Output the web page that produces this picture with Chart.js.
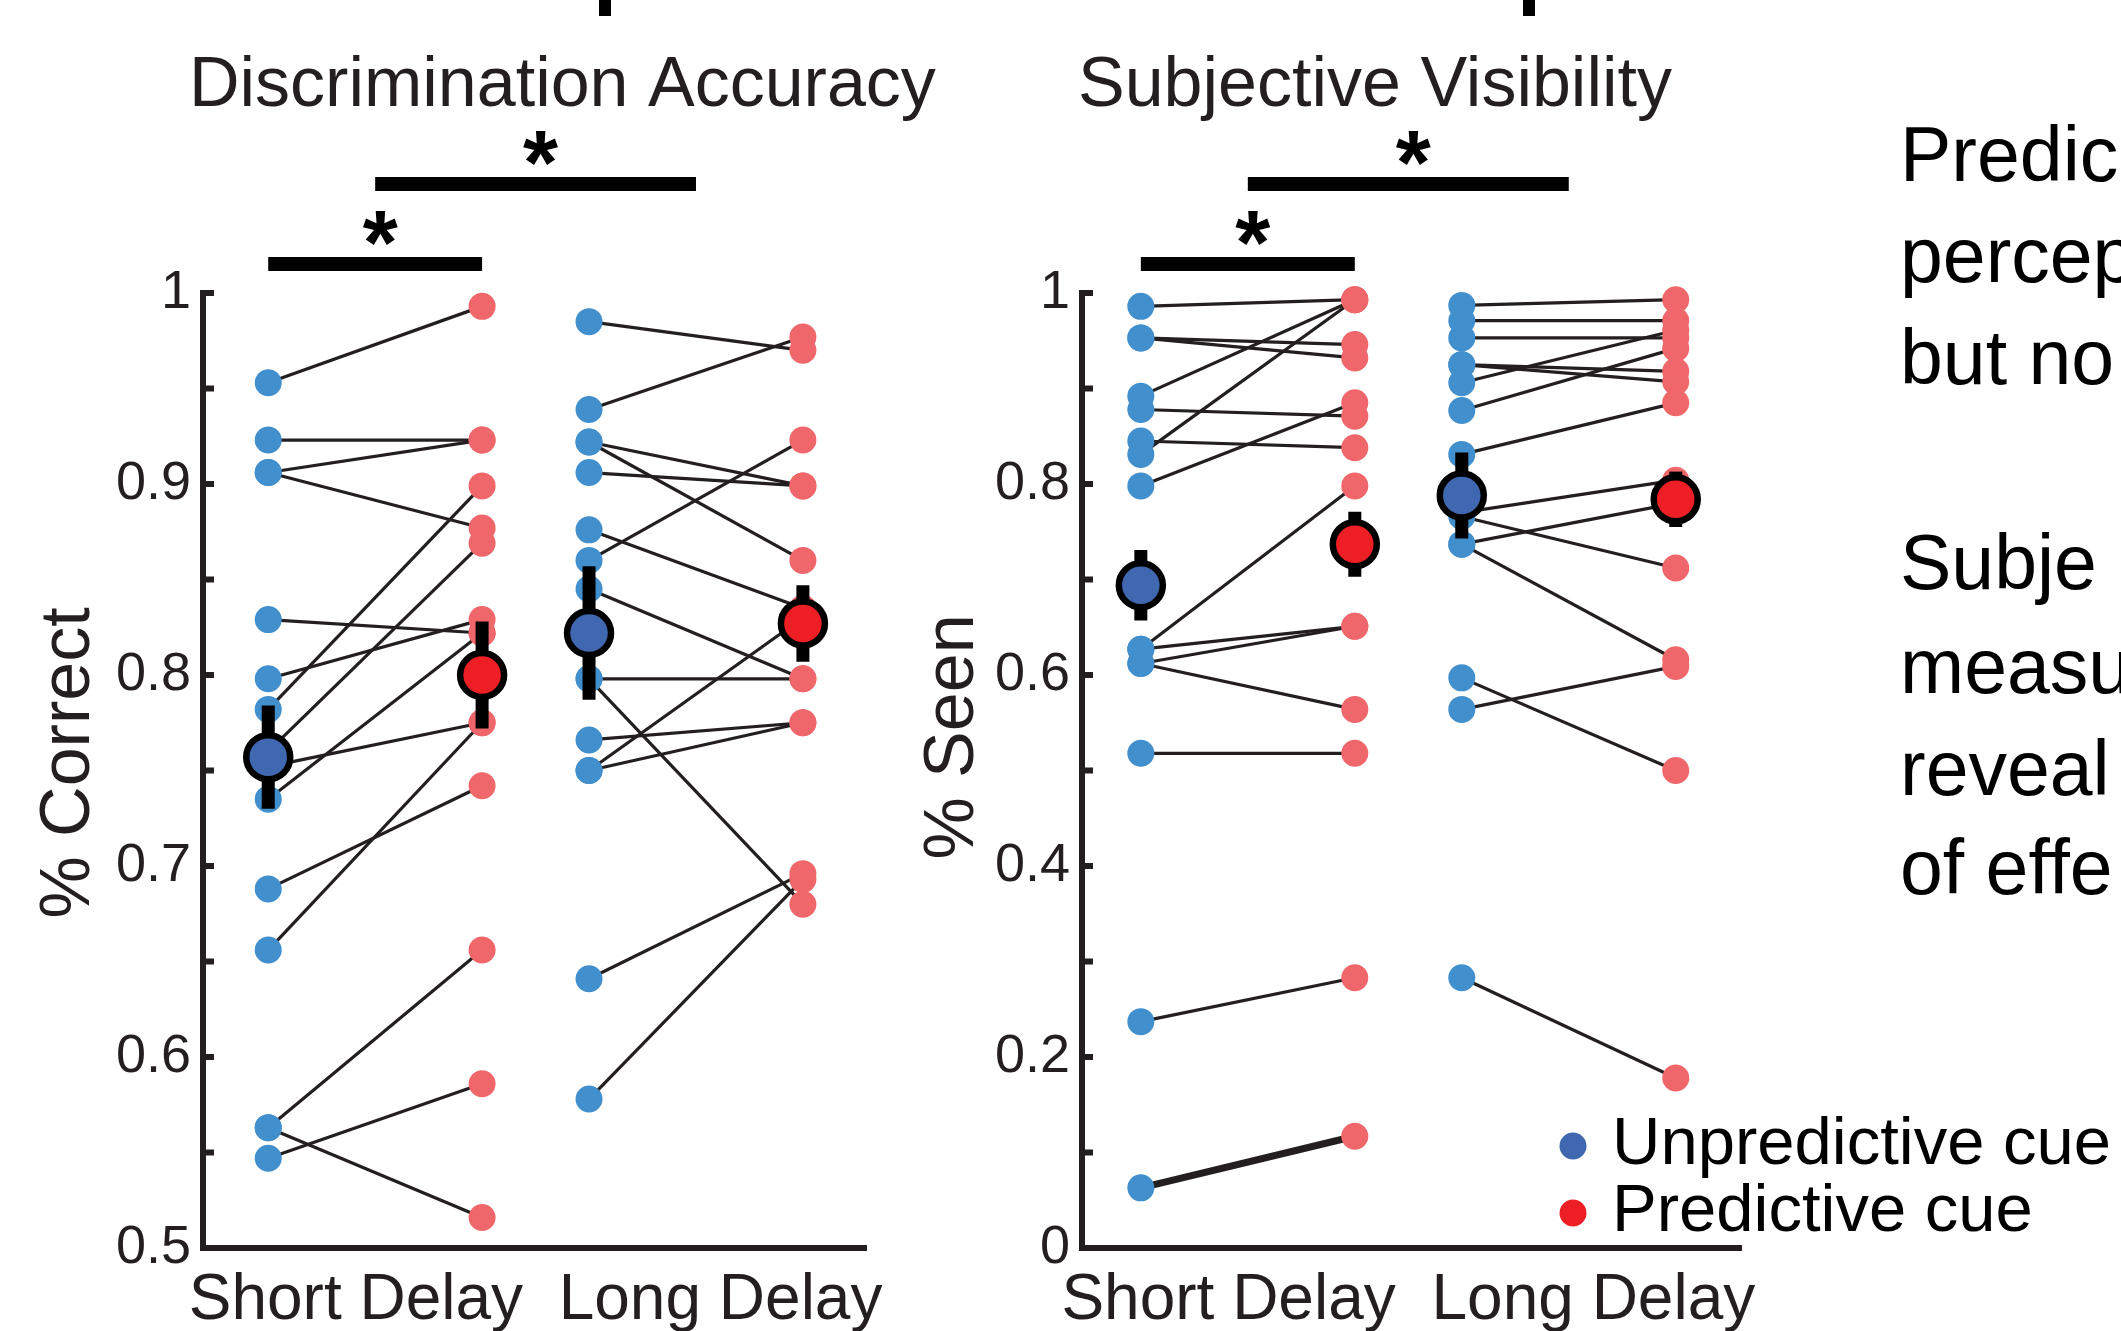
<!DOCTYPE html>
<html>
<head>
<meta charset="utf-8">
<title>Discrimination accuracy and subjective visibility</title>
<script src="https://cdn.jsdelivr.net/npm/chart.js@4.4.1/dist/chart.umd.min.js"></script>
<style>
  html, body { margin: 0; padding: 0; background: #fff; }
  body { width: 2121px; height: 1331px; position: relative; overflow: hidden; }
  canvas { position: absolute; top: 0; }
  #accChart { left: 0; }
  #visChart { left: 880px; }
</style>
</head>
<body>
<canvas id="accChart" width="960" height="1331"></canvas>
<canvas id="visChart" width="1241" height="1331"></canvas>
<script>
// categories
const delayLabels = ['Short Delay', 'Long Delay'];
const cueLabels = ['Unpredictive cue', 'Predictive cue'];

// discrimination accuracy, one value per participant (same order in each list)
const accShortUnpred = [0.953, 0.923, 0.906, 0.906, 0.829, 0.798, 0.782, 0.760, 0.752, 0.735, 0.688, 0.656, 0.563, 0.563, 0.547];
const accShortPred   = [0.993, 0.923, 0.923, 0.877, 0.822, 0.829, 0.899, 0.869, 0.775, 0.822, 0.742, 0.775, 0.656, 0.516, 0.586];
const accLongUnpred  = [0.985, 0.939, 0.922, 0.922, 0.906, 0.876, 0.860, 0.845, 0.798, 0.798, 0.766, 0.750, 0.750, 0.641, 0.578];
const accLongPred    = [0.970, 0.977, 0.899, 0.860, 0.899, 0.835, 0.923, 0.798, 0.798, 0.680, 0.775, 0.775, 0.830, 0.696, 0.693];
const accMeans = [0.757, 0.800, 0.822, 0.827];
const accErr   = [0.027, 0.028, 0.035, 0.020];

// subjective visibility (proportion seen)
const visShortUnpred = [0.986, 0.953, 0.953, 0.892, 0.878, 0.831, 0.845, 0.798, 0.627, 0.627, 0.612, 0.612, 0.518, 0.237, 0.063];
const visShortPred   = [0.993, 0.946, 0.932, 0.993, 0.871, 0.993, 0.838, 0.885, 0.798, 0.651, 0.651, 0.564, 0.518, 0.283, 0.117];
const visLongUnpred  = [0.987, 0.971, 0.953, 0.925, 0.925, 0.906, 0.877, 0.831, 0.770, 0.766, 0.737, 0.737, 0.597, 0.564, 0.283];
const visLongPred    = [0.993, 0.971, 0.953, 0.918, 0.907, 0.961, 0.942, 0.885, 0.804, 0.712, 0.780, 0.616, 0.500, 0.609, 0.178];
const visMeans = [0.694, 0.737, 0.788, 0.784];
const visErr   = [0.037, 0.034, 0.045, 0.029];

// significance comparisons (x positions on the panel scale)
const sigBars = [{from: 1, to: 3, rise: 29}, {from: 2, to: 5, rise: 109}];

// side text, cut by the figure edge
const sideText = ['Predic', 'percep', 'but no', 'Subje', 'measu', 'reveal', 'of effe'];

const ink = '#231F20';
const dotBlue = '#418FCC', dotRed = '#F0676B';
const meanBlue = '#3F68B1', meanRed = '#ED1F24';
const fontFamily = "'Liberation Sans', Arial, Helvetica, sans-serif";
Chart.defaults.font.family = fontFamily;
Chart.defaults.color = ink;

// x position of each group: short/unpred, short/pred, long/unpred, long/pred
const xPos = [1, 3, 4, 6];
const labelPos = [1.82, 5.23];

function buildDatasets(groups, means, errs, thickIndex) {
  const sets = [];
  // lines joining each participant's two cue conditions
  [[0, 1], [2, 3]].forEach(([a, b]) => {
    groups[a].forEach((v, i) => {
      sets.push({
        data: [{x: xPos[a], y: v}, {x: xPos[b], y: groups[b][i]}],
        showLine: true,
        borderColor: ink,
        borderWidth: (a === 0 && i === thickIndex) ? 7 : 3.2,
        pointRadius: 0,
        order: 4,
        clip: false
      });
    });
  });
  // participant dots
  groups.forEach((vals, g) => {
    sets.push({
      data: vals.map(v => ({x: xPos[g], y: v})),
      pointRadius: 13.5,
      pointBorderWidth: 0,
      pointBackgroundColor: g % 2 ? dotRed : dotBlue,
      borderColor: 'rgba(0,0,0,0)',
      order: 3,
      clip: false
    });
  });
  // error bars
  means.forEach((m, g) => {
    sets.push({
      data: [{x: xPos[g], y: m - errs[g]}, {x: xPos[g], y: m + errs[g]}],
      showLine: true,
      borderColor: '#000',
      borderWidth: 13,
      borderCapStyle: 'butt',
      pointRadius: 0,
      order: 2,
      clip: false
    });
  });
  // group means
  sets.push({
    data: means.map((m, g) => ({x: xPos[g], y: m})),
    pointRadius: 22,
    pointBorderWidth: 6.5,
    pointBorderColor: '#000',
    pointBackgroundColor: means.map((m, g) => g % 2 ? meanRed : meanBlue),
    order: 1,
    clip: false
  });
  return sets;
}

function makeDecor(panel) {
  return {
    id: 'decor',
    afterDraw(chart) {
      const {ctx, chartArea: area, scales: {x, y}} = chart;
      ctx.save();
      ctx.fillStyle = ink;
      ctx.font = `70px ${fontFamily}`;
      ctx.textAlign = 'left';
      ctx.textBaseline = 'middle';
      ctx.fillText(panel.title, panel.titleX, 87);

      ctx.save();
      ctx.translate(panel.yTitleX, panel.yTitleY);
      ctx.rotate(-Math.PI / 2);
      ctx.textAlign = 'center';
      ctx.fillText(panel.yTitle, 0, 0);
      ctx.restore();

      // inward tick marks
      y.ticks.forEach(t => {
        const py = y.getPixelForValue(t.value);
        ctx.fillRect(area.left, py - 3, 11, 6);
      });

      // significance bars
      ctx.fillStyle = '#000';
      sigBars.forEach(b => {
        const x1 = x.getPixelForValue(b.from), x2 = x.getPixelForValue(b.to);
        const yc = area.top - b.rise;
        ctx.fillRect(x1, yc - 7, x2 - x1, 14);
        ctx.font = `bold 90px ${fontFamily}`;
        ctx.textAlign = 'center';
        ctx.textBaseline = 'alphabetic';
        ctx.fillText('*', (x1 + x2) / 2 + 5, yc + 10);
      });

      // stub of a cropped mark at the top edge
      ctx.fillRect(panel.stubX, 0, 12, 16);

      if (panel.extra) panel.extra(ctx);
      ctx.restore();
    }
  };
}

function drawLegendAndText(ctx) {
  ctx.textAlign = 'left';
  ctx.textBaseline = 'middle';
  ctx.font = `67px ${fontFamily}`;
  [meanBlue, meanRed].forEach((c, i) => {
    const yy = 1146 + i * 67;
    ctx.fillStyle = c;
    ctx.beginPath();
    ctx.arc(693, yy, 13.5, 0, Math.PI * 2);
    ctx.fill();
    ctx.fillStyle = '#000';
    ctx.fillText(cueLabels[i], 732, yy);
  });
  ctx.font = `77px ${fontFamily}`;
  ctx.fillStyle = '#000';
  const lineY = [160, 261, 363, 568, 672, 774, 873];
  sideText.forEach((s, i) => ctx.fillText(s, 1020, lineY[i]));
}

function makeChart(id, panel) {
  const fmt = v => String(Number(v.toFixed(1)));
  const isMajor = v => Math.abs(v / panel.majorStep - Math.round(v / panel.majorStep)) < 1e-6;
  return new Chart(document.getElementById(id), {
    type: 'scatter',
    data: {datasets: buildDatasets(panel.groups, panel.means, panel.errs, panel.thickIndex)},
    options: {
      responsive: false,
      animation: false,
      events: [],
      layout: {padding: {top: 293, right: panel.padRight, bottom: 0, left: 0}},
      plugins: {legend: {display: false}, tooltip: {enabled: false}},
      scales: {
        x: {
          type: 'linear',
          min: panel.xMin,
          max: panel.xMax,
          afterFit: s => { s.height = 83; },
          afterBuildTicks: s => { s.ticks = labelPos.map(v => ({value: v})); },
          ticks: {
            autoSkip: false, maxRotation: 0, padding: 15, color: ink,
            font: {size: 64},
            callback: (v, i) => delayLabels[i]
          },
          grid: {drawOnChartArea: false, drawTicks: false},
          border: {display: true, color: ink, width: 6}
        },
        y: {
          min: panel.yMin,
          max: 1,
          afterFit: s => { s.width = panel.axisLeft; },
          ticks: {
            stepSize: panel.minorStep, autoSkip: false, padding: 12, color: ink,
            font: {size: 54},
            callback: v => isMajor(v) ? fmt(v) : ''
          },
          grid: {drawOnChartArea: false, drawTicks: false},
          border: {display: true, color: ink, width: 6}
        }
      }
    },
    plugins: [makeDecor(panel)]
  });
}

makeChart('accChart', {
  groups: [accShortUnpred, accShortPred, accLongUnpred, accLongPred],
  means: accMeans, errs: accErr, thickIndex: -1,
  title: 'Discrimination Accuracy', titleX: 189,
  yTitle: '% Correct', yTitleX: 70, yTitleY: 763,
  xMin: 0.39, xMax: 6.59, yMin: 0.5, minorStep: 0.05, majorStep: 0.1,
  axisLeft: 203, padRight: 94, stubX: 599
});

makeChart('visChart', {
  groups: [visShortUnpred, visShortPred, visLongUnpred, visLongPred],
  means: visMeans, errs: visErr, thickIndex: 14,
  title: 'Subjective Visibility', titleX: 198,
  yTitle: '% Seen', yTitleX: 74, yTitleY: 737,
  xMin: 0.45, xMax: 6.61, yMin: 0, minorStep: 0.1, majorStep: 0.2,
  axisLeft: 202, padRight: 380, stubX: 643,
  extra: drawLegendAndText
});
</script>
</body>
</html>
